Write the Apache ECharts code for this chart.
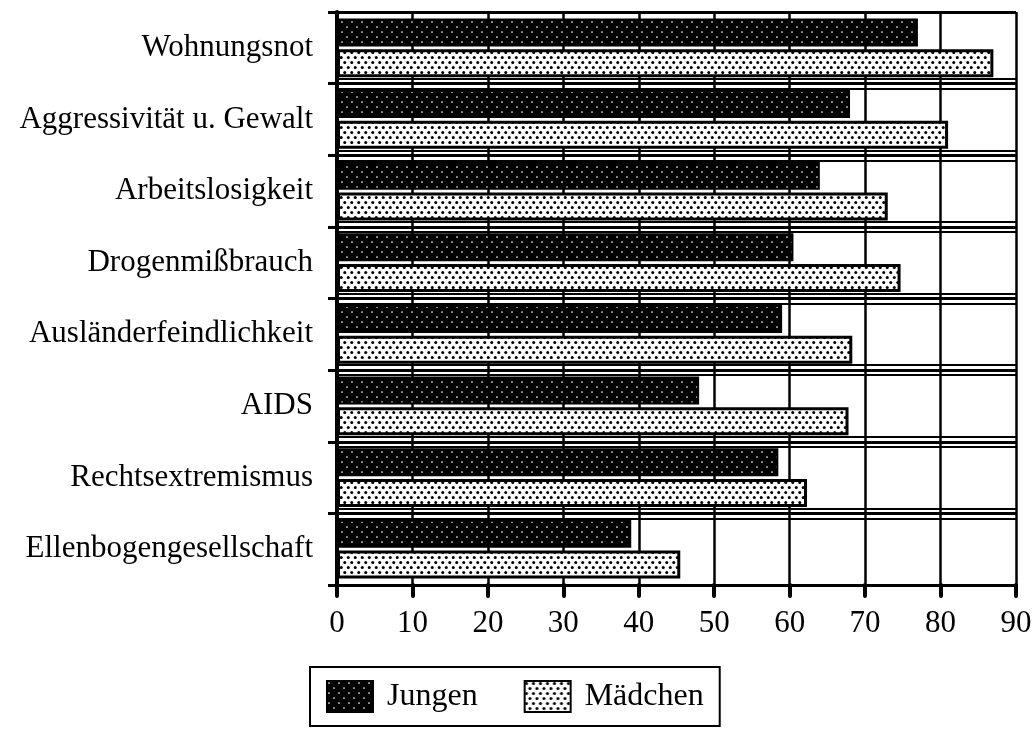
<!DOCTYPE html>
<html>
<head>
<meta charset="utf-8">
<script src="https://cdn.jsdelivr.net/npm/echarts@6/dist/echarts.min.js"></script>
<style>
  html, body { margin: 0; padding: 0; background: #fff; }
  #chart { width: 1035px; height: 730px; }
</style>
</head>
<body>
<div id="chart"></div>
<script>
const categories = [
  'Wohnungsnot',
  'Aggressivität u. Gewalt',
  'Arbeitslosigkeit',
  'Drogenmißbrauch',
  'Ausländerfeindlichkeit',
  'AIDS',
  'Rechtsextremismus',
  'Ellenbogengesellschaft'
]
const jungen = [77, 68, 64, 60.5, 59, 48, 58.5, 39]
const maedchen = [87, 81, 73, 74.7, 68.3, 67.8, 62.3, 45.5]
const seriesNames = ['Jungen', 'Mädchen']

const FONT = 'Liberation Serif'

// small canvas tile used as a repeating dot fill
function dotPattern(bg, fg, w, h, r, pts) {
  const c = document.createElement('canvas')
  c.width = w
  c.height = h
  const ctx = c.getContext('2d')
  ctx.fillStyle = bg
  ctx.fillRect(0, 0, w, h)
  ctx.fillStyle = fg
  pts.forEach(([x, y]) => {
    ctx.beginPath()
    ctx.arc(x, y, r, 0, Math.PI * 2)
    ctx.fill()
  })
  return { image: c, repeat: 'repeat' }
}

const darkFill = dotPattern('#000', '#fff', 10, 10, 0.85, [[2, 2], [7, 7]])
const lightFill = dotPattern('#fff', '#000', 7, 10, 1.5, [[1.75, 2.5], [5.25, 7.5]])

const hiddenCat = {
  type: 'category',
  data: categories,
  inverse: true,
  axisLine: { show: false },
  axisTick: { show: false },
  axisLabel: { show: false }
}

const chart = echarts.init(document.getElementById('chart'))
chart.setOption({
  animation: false,
  backgroundColor: '#fff',
  textStyle: { fontFamily: FONT, color: '#000' },
  grid: { left: 337, right: 19, top: 12, bottom: 145 },
  legend: {
    data: seriesNames,
    left: 310,
    top: 667,
    icon: 'rect',
    itemWidth: 46,
    itemHeight: 31,
    itemGap: 46,
    padding: [13, 16, 13, 16],
    borderColor: '#000',
    borderWidth: 2,
    textStyle: { fontFamily: FONT, fontSize: 32, color: '#000', padding: [0, 0, 0, 9] }
  },
  xAxis: {
    type: 'value',
    min: 0,
    max: 90,
    interval: 10,
    z: 4,
    axisLine: { lineStyle: { color: '#000', width: 4 } },
    axisTick: { show: true, length: 11, lineStyle: { color: '#000', width: 4, cap: 'round' } },
    axisLabel: { fontFamily: FONT, fontSize: 31, color: '#000', margin: 23 },
    splitLine: { show: true, lineStyle: { color: '#000', width: 2.5 } }
  },
  yAxis: [
    {
      type: 'category',
      data: categories,
      inverse: true,
      z: 3,
      axisLine: { lineStyle: { color: '#000', width: 4 } },
      axisTick: { show: true, interval: 0, length: 9, lineStyle: { color: '#000', width: 3 } },
      axisLabel: { interval: 0, fontFamily: FONT, fontSize: 31, color: '#000', margin: 24 },
      splitLine: { show: true, interval: 0, lineStyle: { color: '#000', width: 3 } }
    },
    // doubled grid lines: wide black band with a white stripe inside
    Object.assign({}, hiddenCat, {
      z: 1,
      splitLine: { show: true, interval: 0, showMinLine: false, showMaxLine: false, lineStyle: { color: '#000', width: 12 } }
    }),
    Object.assign({}, hiddenCat, {
      z: 2,
      splitLine: { show: true, interval: 0, showMinLine: false, showMaxLine: false, lineStyle: { color: '#fff', width: 8 } }
    })
  ],
  series: [
    {
      name: seriesNames[0],
      type: 'bar',
      z: 5,
      data: jungen,
      barWidth: 28,
      barGap: '10%',
      itemStyle: { color: darkFill, borderColor: '#000', borderWidth: 2 }
    },
    {
      name: seriesNames[1],
      type: 'bar',
      z: 5,
      data: maedchen,
      barWidth: 28,
      barGap: '10%',
      itemStyle: { color: lightFill, borderColor: '#000', borderWidth: 3 }
    }
  ]
})
</script>
</body>
</html>
